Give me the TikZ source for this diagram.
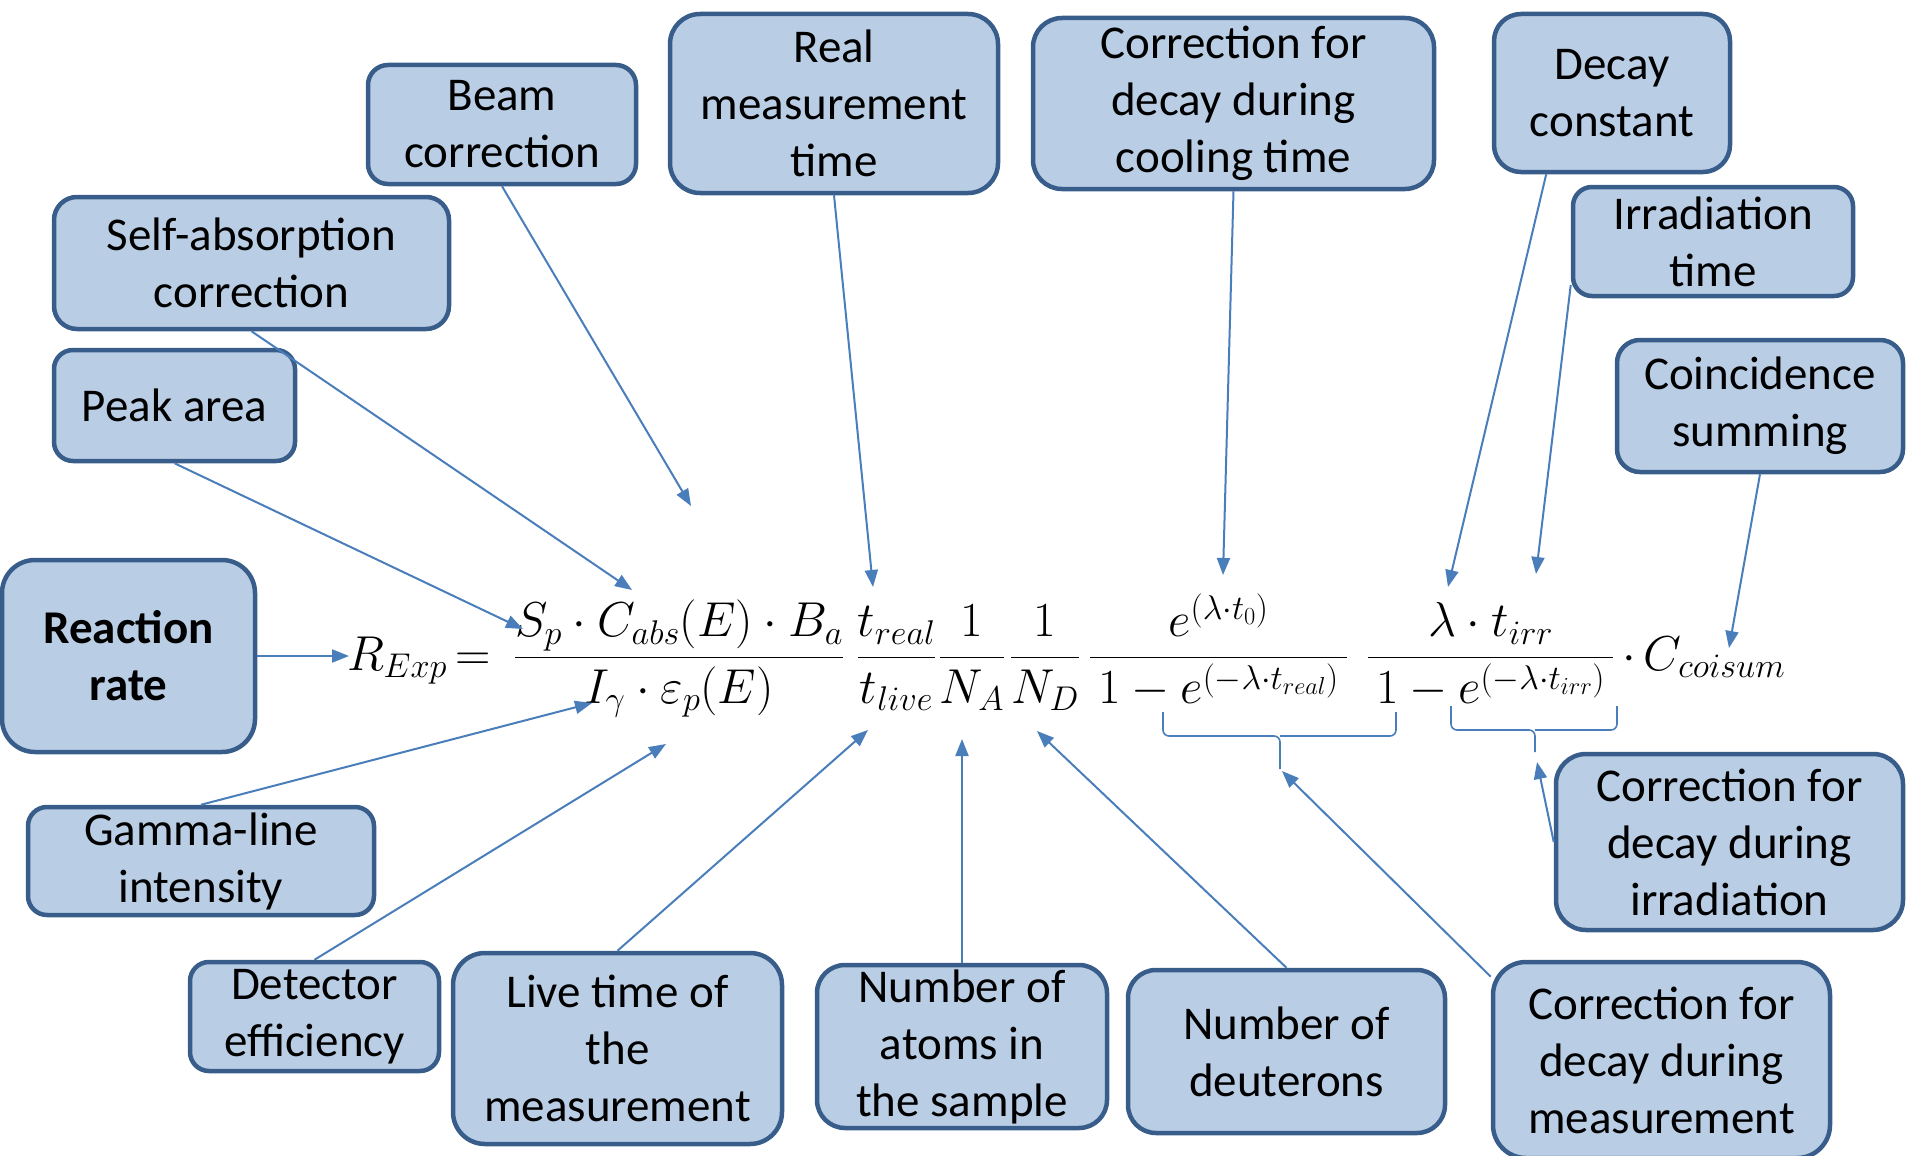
\RequirePackage{fix-cm}
\documentclass[tikz,border=0pt]{standalone}
\usepackage{amsmath}
\usepackage[no-math]{fontspec}
\setmainfont{Carlito}
\usepackage{tikz}
\usetikzlibrary{arrows.meta}
\definecolor{notefill}{HTML}{B9CDE5}
\definecolor{noteedge}{HTML}{385D8A}
\definecolor{linkblue}{HTML}{4A7EBB}
\newcommand{\notefont}{\fontsize{47}{57}\selectfont}
\newcommand{\formulafont}{\fontsize{49}{59}\selectfont}
\tikzstyle{note} = [rectangle, rounded corners=20pt, draw=noteedge, fill=notefill, line width=4.5pt, align=center, inner sep=0pt, font=\notefont]
\tikzstyle{term} = [inner sep=0pt, anchor=base, font=\formulafont]
\tikzstyle{arrow} = [draw=linkblue, line width=2pt, -{Triangle[length=17pt,width=13pt]}]
\tikzstyle{brace} = [draw=linkblue, line width=1.6pt, rounded corners=6pt]

\begin{document}
\begin{tikzpicture}[x=1pt, y=-1pt]
\useasboundingbox (0,0) rectangle (1907,1156);

% the formula
\node (rexp) [term, anchor=base west] at (347,670) {$R_{Exp}\mkern-2mu =$};
\node (f1) [term] at (679,670) {$\displaystyle\frac{S_p\cdot C_{abs}(E)\cdot B_a}{I_\gamma\cdot \varepsilon_p(E)}$};
\node (f2) [term] at (896.5,670) {$\displaystyle\frac{t_{real}}{t_{live}}$};
\node (f3) [term] at (972,670) {$\displaystyle\frac{1}{N_A}$};
\node (f4) [term] at (1045,670) {$\displaystyle\frac{1}{N_D}$};
\node (f5) [term] at (1218.5,670) {$\displaystyle\frac{e^{(\lambda\cdot t_0)}}{\,1-e^{(-\lambda\cdot t_{real})}\,}$};
\node (f6) [term] at (1490.5,670) {$\displaystyle\frac{\lambda\cdot t_{irr}}{\,1-e^{(-\lambda\cdot t_{irr})}\,}$};
\node (coisum) [term, anchor=base west] at (1622,670) {$\cdot\, C_{coisum}$};

% braces under the denominators
\draw [brace] (1163,712) |- (1280,736) -- (1280,769);
\draw [brace] (1396,712) |- (1280,736);
\draw [brace] (1451,706) |- (1535,730) -- (1535,752);
\draw [brace] (1617,706) |- (1535,730);

% boxes above
\node (beam) [note, minimum width=268pt, minimum height=119pt] at (502,124.5) {Beam\\correction};
\node (real) [note, rounded corners=30pt, minimum width=328pt, minimum height=179pt] at (834,103.5) {Real\\measurement\\time};
\node (cool) [note, rounded corners=29pt, minimum width=401pt, minimum height=171pt] at (1233.5,103.5) {Correction for\\decay during\\cooling time};
\node (decay) [note, rounded corners=27pt, minimum width=236pt, minimum height=158pt] at (1612,93) {Decay\\constant};
\node (irrtime) [note, rounded corners=19pt, minimum width=280pt, minimum height=109pt] at (1713,241.5) {Irradiation\\time};
\node (coin) [note, rounded corners=23pt, minimum width=286pt, minimum height=132pt] at (1760,406) {Coincidence\\summing};
\node (selfabs) [note, rounded corners=23pt, minimum width=395pt, minimum height=132pt] at (251.5,263) {Self-absorption\\correction};
\node (peak) [note, rounded corners=19pt, minimum width=241pt, minimum height=111pt] at (174.5,405.5) {Peak area};
\node (react) [note, rounded corners=33pt, minimum width=253pt, minimum height=192pt, font=\notefont\bfseries] at (128.5,656) {Reaction\\rate};

% boxes below
\node (gamma) [note, rounded corners=19pt, minimum width=346pt, minimum height=108pt] at (201,861) {Gamma-line\\intensity};
\node (det) [note, rounded corners=19pt, minimum width=249pt, minimum height=109pt] at (314.5,1016.5) {Detector\\efficiency};
\node (live) [note, rounded corners=32pt, minimum width=329pt, minimum height=191pt] at (617.5,1048.5) {Live time of\\the\\measurement};
\node (atoms) [note, rounded corners=28pt, minimum width=290pt, minimum height=163pt] at (962,1046.5) {Number of\\atoms in\\the sample};
\node (deut) [note, rounded corners=28pt, minimum width=317pt, minimum height=163pt] at (1286.5,1051.5) {Number of\\deuterons};
\node (meas) [note, rounded corners=33pt, minimum width=337pt, minimum height=196pt] at (1661.5,1060) {Correction for\\decay during\\measurement};
\node (irrdec) [note, rounded corners=30pt, minimum width=347pt, minimum height=176pt] at (1729.5,842) {Correction for\\decay during\\irradiation};

% where the arrows point
\coordinate (beamtip) at (691,506);
\coordinate (selfabstip) at (632,590);
\coordinate (peaktip) at (523,629);
\coordinate (realtip) at (873,587);
\coordinate (cooltip) at (1223,575);
\coordinate (decaytip) at (1448,587);
\coordinate (irrtimetip) at (1536,574);
\coordinate (cointip) at (1729,648);
\coordinate (reacttip) at (349,656);
\coordinate (gammatip) at (592,703);
\coordinate (dettip) at (666,744);
\coordinate (livetip) at (868,730);
\coordinate (atomstip) at (962,739);
\coordinate (deuttip) at (1037,731);
\coordinate (meastip) at (1282,771);
\coordinate (irrdectip) at (1537,762);

\draw [arrow] (beam.south) -- (beamtip);
\draw [arrow] (selfabs.south) -- (selfabstip);
\draw [arrow] (peak.south) -- (peaktip);
\draw [arrow] (real.south) -- (realtip);
\draw [arrow] (cool.south) -- (cooltip);
\draw [arrow] (decay.231) -- (decaytip);
\draw [arrow] (irrtime.197) -- (irrtimetip);
\draw [arrow] (coin.south) -- (cointip);
\draw [arrow] (react.east) -- (reacttip);
\draw [arrow] (gamma.north) -- (gammatip);
\draw [arrow] (det.north) -- (dettip);
\draw [arrow] (live.north) -- (livetip);
\draw [arrow] (atoms.north) -- (atomstip);
\draw [arrow] (deut.north) -- (deuttip);
\draw [arrow] (meas.154) -- (meastip);
\draw [arrow] (irrdec.west) -- (irrdectip);
\end{tikzpicture}
\end{document}
